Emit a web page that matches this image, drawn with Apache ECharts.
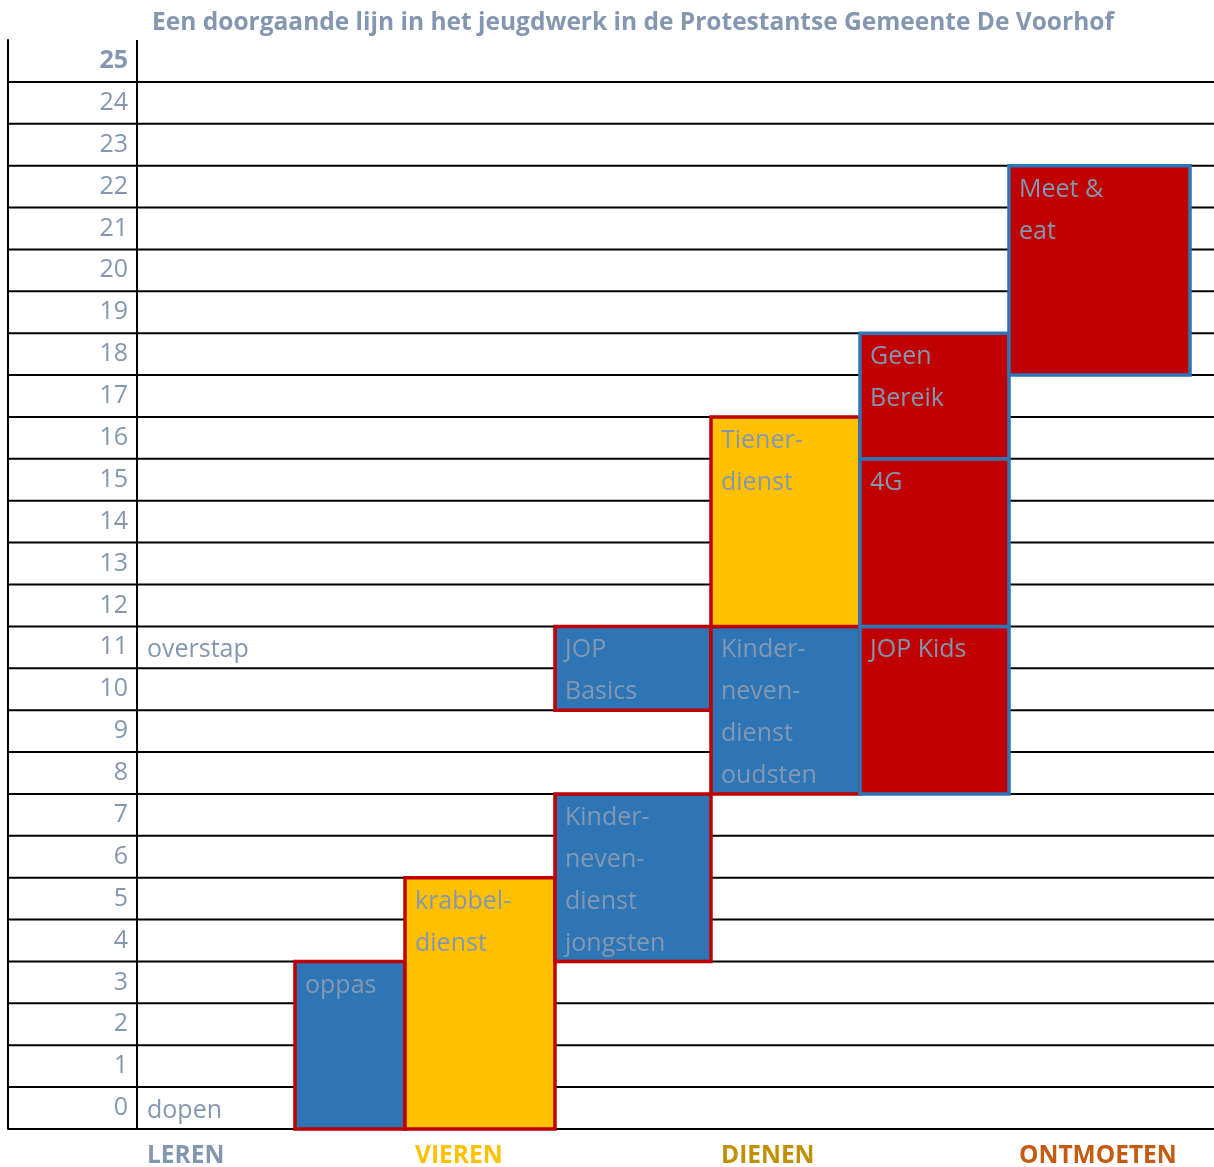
<!DOCTYPE html>
<html><head><meta charset="utf-8">
<script src="https://cdn.jsdelivr.net/npm/echarts@6/dist/echarts.min.js"></script>
<style>html,body{margin:0;padding:0;background:#fff}#c{width:1214px;height:1167px}</style>
</head><body><div id="c"></div>
<script>
// ---- data ----
const titleText = 'Een doorgaande lijn in het jeugdwerk in de Protestantse Gemeente De Voorhof';
const ages = [0,1,2,3,4,5,6,7,8,9,10,11,12,13,14,15,16,17,18,19,20,21,22,23,24,25];
const pillars = ['LEREN', 'VIEREN', 'DIENEN', 'ONTMOETEN'];
const pillarColumns = [1, 3, 5, 7];
const noteTexts = ['dopen', 'overstap'];
const noteAges = [0, 11];
const noteColumns = [1, 1];
const activities = ['oppas', 'krabbel-\ndienst', 'Kinder-\nneven-\ndienst\njongsten', 'JOP\nBasics',
  'Kinder-\nneven-\ndienst\noudsten', 'Tiener-\ndienst', 'JOP Kids', '4G', 'Geen\nBereik', 'Meet &\neat'];
const activityColumns = [2, 3, 4, 4, 5, 5, 6, 6, 6, 7];
const activityFromAge = [0, 0, 4, 10, 8, 12, 8, 12, 16, 18];
const activityToAge   = [3, 5, 7, 11, 11, 16, 11, 15, 18, 22];
const activityKind = ['leren', 'vieren', 'leren', 'leren', 'leren', 'vieren', 'ontmoeten', 'ontmoeten', 'ontmoeten', 'ontmoeten'];

// ---- layout / style ----
const colWeights = [129, 158, 110, 150, 156, 149, 149, 181, 24];
const colEdges = [0];
colWeights.forEach(w => colEdges.push(colEdges[colEdges.length - 1] + w));
const totalW = colEdges[colEdges.length - 1];
const textColor = '#8497b0';
const FONT = '"Open Sans", "Noto Sans", sans-serif';
const kindStyle = {
  leren: { fill: '#2e75b6', stroke: '#c00000' },
  vieren: { fill: '#ffc000', stroke: '#c00000' },
  ontmoeten: { fill: '#c00000', stroke: '#2e75b6' }
};
const pillarColors = ['#8497b0', '#ffc000', '#bf9000', '#c55a11'];

const chart = echarts.init(document.getElementById('c'));

function renderLines(params, api) {
  const age = api.value(1);
  const c = api.coord([0, age]);
  const h = api.size([0, 1])[1];
  const xEnd = api.coord([totalW, age])[0];
  const yb = c[1] + h / 2, yt = c[1] - h / 2;
  const xLab = api.coord([colEdges[1], age])[0];
  return { type: 'group', children: [
    { type: 'line', shape: { x1: c[0], y1: yb, x2: xEnd, y2: yb }, style: { stroke: '#000', lineWidth: 2 } },
    { type: 'line', shape: { x1: xLab, y1: yt, x2: xLab, y2: yb }, style: { stroke: '#000', lineWidth: 2 } }
  ]};
}

function renderBoxes(params, api) {
  const i = api.value(3);
  const col = api.value(0), from = api.value(1), to = api.value(2);
  const h = api.size([0, 1])[1];
  const x1 = api.coord([colEdges[col], from])[0];
  const x2 = api.coord([colEdges[col + 1], from])[0];
  const yTop = api.coord([0, to])[1] - h / 2;
  const yBot = api.coord([0, from])[1] + h / 2;
  const st = kindStyle[activityKind[i]];
  const children = [{ type: 'rect', shape: { x: x1, y: yTop, width: x2 - x1, height: yBot - yTop },
    style: { fill: st.fill, stroke: st.stroke, lineWidth: 3.5 } }];
  activities[i].split('\n').forEach((line, k) => {
    const yc = api.coord([0, to - k])[1];
    children.push({ type: 'text', style: { text: line, x: x1 + 10, y: yc + 3, fill: textColor,
      fontSize: 25, fontFamily: FONT, align: 'left', verticalAlign: 'middle' } });
  });
  return { type: 'group', children };
}

function renderNotes(params, api) {
  const i = api.value(2);
  const p = api.coord([colEdges[api.value(0)], api.value(1)]);
  return { type: 'text', style: { text: noteTexts[i], x: p[0] + 10, y: p[1] + 3, fill: textColor,
    fontSize: 25, fontFamily: FONT, align: 'left', verticalAlign: 'middle' } };
}

function renderPillars(params, api) {
  const i = api.value(1);
  const h = api.size([0, 1])[1];
  const p = api.coord([colEdges[api.value(0)], 0]);
  return { type: 'text', style: { text: pillars[i], x: p[0] + 10, y: p[1] + h / 2 + 27, fill: pillarColors[i],
    fontSize: 24.5, fontWeight: 'bold', fontFamily: FONT, align: 'left', verticalAlign: 'middle' } };
}

chart.setOption({
  animation: false,
  title: { text: titleText, left: 628, top: 6, textAlign: 'center',
    textStyle: { color: textColor, fontSize: 24.5, fontWeight: 'bold', fontFamily: FONT } },
  grid: { left: 8, right: 0, top: 40, bottom: 38, containLabel: false },
  xAxis: { type: 'value', min: 0, max: totalW, show: false },
  yAxis: { type: 'category', data: ages.map(String), boundaryGap: true,
    axisLine: { show: true, lineStyle: { color: '#000', width: 2 } },
    axisTick: { show: false }, splitLine: { show: false },
    axisLabel: { inside: true, margin: 120, align: 'right', verticalAlign: 'middle', color: textColor, fontSize: 25, fontFamily: FONT,
      formatter: v => v === '25' ? '{b|25}' : v,
      rich: { b: { fontWeight: 'bold', color: textColor, fontSize: 25, fontFamily: FONT } } } },
  series: [
    { type: 'custom', renderItem: renderLines, clip: false, z: 1, encode: { x: 0, y: 1 },
      data: ages.map(a => [0, a]) },
    { type: 'custom', renderItem: renderBoxes, clip: false, z: 2, encode: { x: 0, y: 1 },
      data: activities.map((a, i) => [activityColumns[i], activityFromAge[i], activityToAge[i], i]) },
    { type: 'custom', renderItem: renderNotes, clip: false, z: 3, encode: { x: 0, y: 1 },
      data: noteTexts.map((t, i) => [noteColumns[i], noteAges[i], i]) },
    { type: 'custom', renderItem: renderPillars, clip: false, z: 3, encode: { x: 0, y: 2 },
      data: pillars.map((p, i) => [pillarColumns[i], i, 0]) }
  ]
});
</script></body></html>
